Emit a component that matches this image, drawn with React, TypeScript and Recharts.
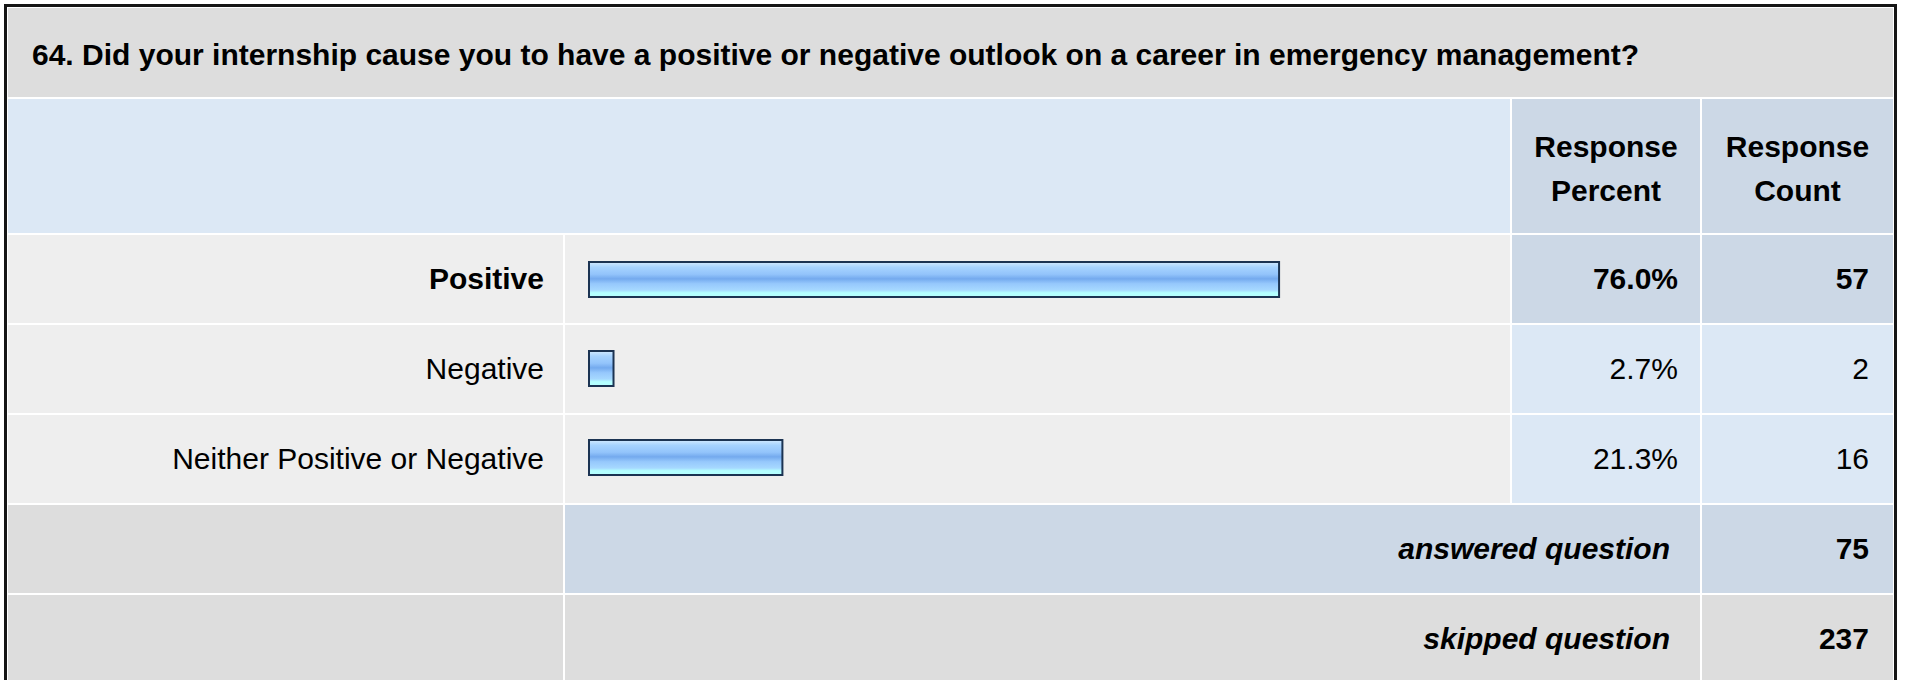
import { BarChart, Bar, XAxis, YAxis } from "recharts";

const question =
  "64. Did your internship cause you to have a positive or negative outlook on a career in emergency management?";
const answers = ["Positive", "Negative", "Neither Positive or Negative"];
const percents = [76.0, 2.7, 21.3];
const counts = [57, 2, 16];
const answeredCount = 75;
const skippedCount = 237;

const font = '"Liberation Sans", Arial, sans-serif';
const fs = 30;

// grid tracks (px)
const cols = "555px 945px 188px 191px";
const rowsTpl = "89px 134px 88px 88px 88px 88px 88px";

const C = {
  title: "#dddddd",
  head: "#dce8f5",
  headDark: "#ccd8e6",
  cell: "#eeeeee",
  light: "#dce8f5",
  grey: "#dddddd",
};

export default function App() {
  const data = answers.map((answer, i) => ({ answer, percent: percents[i] }));
  const maxCount = Math.max(...counts);

  const cell = (bg: string, extra: React.CSSProperties = {}): React.CSSProperties => ({
    background: bg,
    display: "flex",
    alignItems: "center",
    justifyContent: "flex-end",
    boxSizing: "border-box",
    whiteSpace: "nowrap",
    ...extra,
  });

  return (
    <div
      style={{
        position: "absolute",
        left: 4,
        top: 4,
        border: "3px solid #151515",
        padding: 1,
        background: "#fff",
        fontFamily: font,
        fontSize: fs,
        color: "#000",
      }}
    >
      <div
        style={{
          position: "relative",
          display: "grid",
          gridTemplateColumns: cols,
          gridTemplateRows: rowsTpl,
          gap: 2,
          background: "#fff",
        }}
      >
        <div style={cell(C.title, { gridColumn: "1 / 5", justifyContent: "flex-start", paddingLeft: 24, paddingTop: 4, fontWeight: "bold" })}>
          {question}
        </div>

        <div style={cell(C.head, { gridColumn: "1 / 3" })} />
        <div style={cell(C.headDark, { justifyContent: "center", textAlign: "center", fontWeight: "bold", lineHeight: "44px", paddingTop: 6, whiteSpace: "normal" })}>
          Response
          <br />
          Percent
        </div>
        <div style={cell(C.headDark, { justifyContent: "center", textAlign: "center", fontWeight: "bold", lineHeight: "44px", paddingTop: 6, whiteSpace: "normal" })}>
          Response
          <br />
          Count
        </div>

        {answers.map((a, i) => {
          const top = counts[i] === maxCount;
          const side = top ? C.headDark : C.light;
          const fw = top ? "bold" : "normal";
          return [
            <div key={`l${i}`} style={cell(C.cell, { paddingRight: 19, fontWeight: fw })}>
              {a}
            </div>,
            <div key={`b${i}`} style={cell(C.cell)} />,
            <div key={`p${i}`} style={cell(side, { paddingRight: 22, fontWeight: fw })}>
              {percents[i].toFixed(1)}%
            </div>,
            <div key={`c${i}`} style={cell(side, { paddingRight: 24, fontWeight: fw })}>
              {counts[i]}
            </div>,
          ];
        })}

        <div style={cell(C.grey)} />
        <div style={cell(C.headDark, { gridColumn: "2 / 4", paddingRight: 30, fontWeight: "bold", fontStyle: "italic" })}>
          answered question
        </div>
        <div style={cell(C.headDark, { paddingRight: 24, fontWeight: "bold" })}>{answeredCount}</div>

        <div style={cell(C.grey)} />
        <div style={cell(C.grey, { gridColumn: "2 / 4", paddingRight: 30, fontWeight: "bold", fontStyle: "italic" })}>
          skipped question
        </div>
        <div style={cell(C.grey, { paddingRight: 24, fontWeight: "bold" })}>{skippedCount}</div>

        <div style={{ position: "absolute", left: 557, top: 227 }}>
          <BarChart
            layout="vertical"
            width={945}
            height={267}
            data={data}
            margin={{ top: 0, right: 13, bottom: 0, left: 24 }}
            barCategoryGap={0}
          >
            <defs>
              <linearGradient id="barFill" x1="0" y1="0" x2="0" y2="1">
                <stop offset="0%" stopColor="#d2eaff" />
                <stop offset="15%" stopColor="#a6d3ff" />
                <stop offset="35%" stopColor="#93c4fb" />
                <stop offset="48%" stopColor="#74aaee" />
                <stop offset="62%" stopColor="#96c8fc" />
                <stop offset="80%" stopColor="#a6d8ff" />
                <stop offset="88%" stopColor="#b4ffff" />
                <stop offset="100%" stopColor="#b4ffff" />
              </linearGradient>
            </defs>
            <XAxis type="number" domain={[0, 100]} hide />
            <YAxis type="category" dataKey="answer" hide />
            <Bar
              dataKey="percent"
              barSize={35}
              fill="url(#barFill)"
              stroke="#1b3352"
              strokeWidth={2}
              isAnimationActive={false}
            />
          </BarChart>
        </div>
      </div>
    </div>
  );
}
